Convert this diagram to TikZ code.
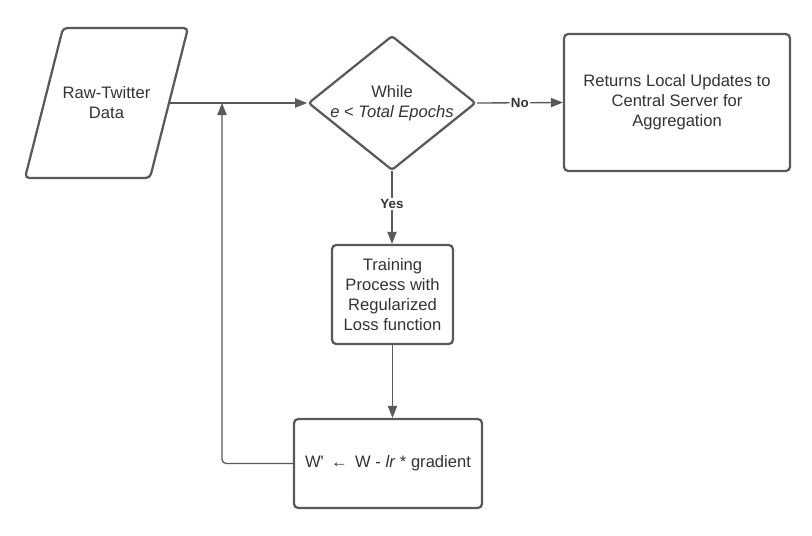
\documentclass[tikz,border=0pt]{standalone}
\usepackage{fontspec}
\setmainfont{Liberation Sans}
\usetikzlibrary{
  arrows.meta,
  shapes.geometric,
  positioning,
  calc
}
\definecolor{fcLine}{HTML}{595959}
\definecolor{fcText}{HTML}{333333}
\tikzset{
  fcnode/.style={
    draw=fcLine, line width=1.6pt, rounded corners=3pt, align=center,
    text=fcText, font=\fontsize{11.8}{14.2}\selectfont, inner sep=0pt
  },
  fcbox/.style={fcnode, rectangle},
  fctext/.style={fcnode, draw=none},
  fcdecide/.style={fcnode, diamond, aspect=1.244, rounded corners=2pt},
  flow/.style={-{Triangle[length=3mm, width=2.3mm]}, line width=0.95pt, fcLine, rounded corners=3pt},
  tag/.style={font=\fontsize{9.5}{9.5}\selectfont\bfseries, text=fcText, fill=white, inner sep=1pt}
}
\begin{document}
\begin{tikzpicture}[x=0.25mm, y=-0.25mm]
  \useasboundingbox (0,0) rectangle (812,535);
  % data input (parallelogram)
  \draw[fcLine, line width=1.6pt, rounded corners=3pt] (63,28) -- (188,28) -- (150,178) -- (25,178) -- cycle;
  \node[fctext] (raw) at (106.5,103) {Raw-Twitter\\Data};
  \coordinate (rawout) at (169,103);
  \node[fcdecide, minimum width=40.75mm, minimum height=32.75mm] (loop) at (392,103) {While\\\textit{e} < \textit{Total Epochs}};
  \node[fcbox, minimum width=56.5mm, minimum height=34.25mm] (ret) at (677,102.5) {Returns Local Updates to\\Central Server for\\Aggregation};
  \node[fcbox, minimum width=30.25mm, minimum height=24.75mm] (train) at (392.5,294.5) {Training\\Process with\\Regularized\\Loss function};
  \node[fcbox, minimum width=47mm, minimum height=22.25mm] (upd) at (388,463.5) {W\textquotesingle{} \,←\, W - \textit{lr} * gradient};
  \coordinate (join) at (222,103);
  \draw[flow] (rawout) -- (loop.west);
  \draw[flow] (loop.east) -- node[tag] {No} (ret.west);
  \draw[flow] (loop.south) -- node[tag, pos=0.45] {Yes} (loop.south |- train.north);
  \draw[flow] (train.south) -- (train.south |- upd.north);
  \draw[flow] (upd.west) -| (join);
\end{tikzpicture}
\end{document}
